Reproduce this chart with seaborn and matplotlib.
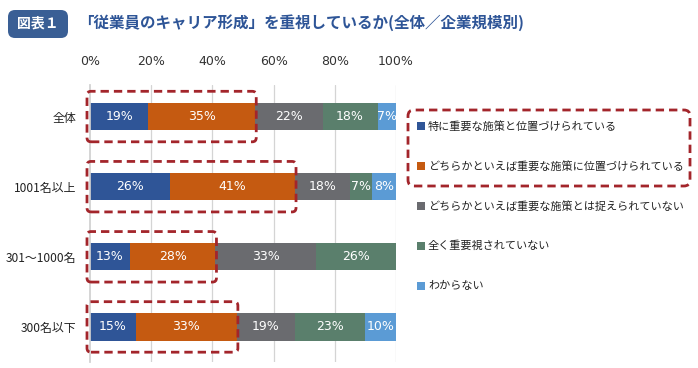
import matplotlib
matplotlib.use("Agg")
import matplotlib.pyplot as plt
import seaborn as sns
import numpy as np
import pandas as pd
from matplotlib.patches import FancyBboxPatch
from matplotlib.transforms import IdentityTransform

categories = ["全体", "1001名以上", "301～1000名", "300名以下"]
series_names = [
    "特に重要な施策と位置づけられている",
    "どちらかといえば重要な施策に位置づけられている",
    "どちらかといえば重要な施策とは捉えられていない",
    "全く重要視されていない",
    "わからない",
]
values = {
    series_names[0]: [19, 26, 13, 15],
    series_names[1]: [35, 41, 28, 33],
    series_names[2]: [22, 18, 33, 19],
    series_names[3]: [18, 7, 26, 23],
    series_names[4]: [7, 8, 0, 10],
}
colors = ["#2f5597", "#c55a11", "#6a6b6f", "#5a7f6c", "#5b9bd5"]
xticks = [0, 20, 40, 60, 80, 100]
xtick_labels = ["0%", "20%", "40%", "60%", "80%", "100%"]

sns.set_theme(style="white")
plt.rcParams['font.family'] = ['Noto Sans CJK JP', 'DejaVu Sans']

W, H = 698, 368
fig = plt.figure(figsize=(W / 100, H / 100), dpi=100)
ax = fig.add_axes([90 / W, 1 - 362 / H, 306 / W, (362 - 85) / H])

df = pd.DataFrame(values, index=categories)
cum = df.cumsum(axis=1).clip(upper=100)

# draw cumulative bars, last series first so earlier ones sit in front
for i in range(len(series_names) - 1, -1, -1):
    name = series_names[i]
    d = pd.DataFrame({"cat": categories, "val": cum[name].values})
    sns.barplot(data=d, x="val", y="cat", order=categories, orient="h",
                color=colors[i], width=0.39, ax=ax, saturation=1,
                edgecolor="none", linewidth=0, zorder=3)

ax.set_xlim(0, 100)
ax.set_ylim(3.5, -0.45)
ax.set_xlabel("")
ax.set_ylabel("")
ax.xaxis.tick_top()
ax.set_xticks(xticks)
ax.set_xticklabels(xtick_labels, fontsize=9, color="#333333", family="DejaVu Sans")
ax.tick_params(axis="x", length=0, pad=12)
ax.tick_params(axis="y", length=0, pad=10, labelsize=8.6, labelcolor="#222222")
for x in xticks[1:]:
    ax.axvline(x, color="#d4d4d4", lw=0.9, zorder=1)
for s in ["top", "right", "bottom"]:
    ax.spines[s].set_visible(False)
ax.spines["left"].set_color("#d0d0d0")
ax.spines["left"].set_zorder(4)

# labels
for r, cat in enumerate(categories):
    left = 0
    for i, name in enumerate(series_names):
        v = df.loc[cat, name]
        if v > 0:
            ax.text(min(left + v / 2, (left + 100) / 2), r, f"{v}%", ha="center", va="center",
                    color="white", fontsize=9, family="DejaVu Sans", zorder=5)
        left += v

fig.canvas.draw()
red = "#a3252b"
# dashed rounded boxes around first two segments
for r, cat in enumerate(categories):
    end = df.loc[cat, series_names[0]] + df.loc[cat, series_names[1]]
    (x0, y0) = ax.transData.transform((0, r + 0.36))
    (x1, y1) = ax.transData.transform((end, r - 0.36))
    x0 -= 3
    x1 += 1
    p = FancyBboxPatch((x0, y0), x1 - x0, y1 - y0,
                       boxstyle="round,pad=0,rounding_size=4",
                       transform=IdentityTransform(), fill=False,
                       edgecolor=red, lw=2, ls=(0, (3, 1.8)), zorder=6,
                       clip_on=False)
    fig.add_artist(p)

# legend
ly = [126, 166, 206, 246, 286]
for i, name in enumerate(series_names):
    yy = 1 - ly[i] / H
    fig.patches.append(matplotlib.patches.Rectangle(
        (417 / W, yy - 4 / H), 8 / W, 8 / H, transform=fig.transFigure,
        facecolor=colors[i], edgecolor="none"))
    fig.text(428 / W, yy, name, fontsize=8.0, va="center", ha="left", color="#222222")

lp = FancyBboxPatch((408, H - 186), 282, 76,
                    boxstyle="round,pad=0,rounding_size=6",
                    transform=IdentityTransform(), fill=False,
                    edgecolor=red, lw=2, ls=(0, (3, 1.8)), zorder=6)
fig.add_artist(lp)

# title
tb = FancyBboxPatch((8, H - 38), 60, 28, boxstyle="round,pad=0,rounding_size=7",
                    transform=IdentityTransform(), facecolor="#3a5f95",
                    edgecolor="none")
fig.add_artist(tb)
fig.text(38 / W, 1 - 24 / H, "図表１", color="white", fontsize=10, weight="bold",
         ha="center", va="center")
fig.text(78 / W, 1 - 23 / H, "「従業員のキャリア形成」を重視しているか(全体／企業規模別)",
         color="#2e5597", fontsize=11.2, weight="bold", ha="left", va="center")

fig.savefig("out.png", dpi=100)
